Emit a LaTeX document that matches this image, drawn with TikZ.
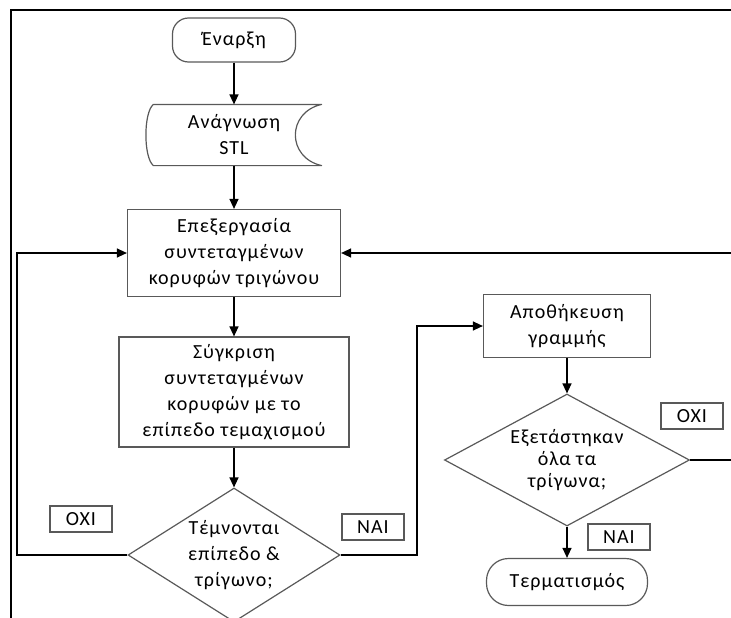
\documentclass[tikz,border=0pt]{standalone}
\usepackage{fontspec}
\setmainfont{Carlito}[LetterSpace=5]
\usetikzlibrary{arrows.meta,shapes.geometric}
\tikzset{>={Triangle[length=10pt,width=9pt]},
  box/.style={draw=black!65,line width=1.2pt,align=center,inner sep=0pt,
    font=\fontsize{20}{26}\selectfont},
  term/.style={box,rounded corners=16pt},
  cond/.style={box,diamond,aspect=1.6},
  tag/.style={box,minimum width=62pt,minimum height=26pt},
  flow/.style={->,line width=1.3pt}}

\begin{document}
\begin{tikzpicture}[x=1pt,y=-1pt]
  \clip (0,0) rectangle (731,618);
  \draw [line width=2pt] (11,618) -- (11,10) -- (731,10);
  \node[term,minimum width=123pt,minimum height=44pt] (start) at (234,40) {Έναρξη};
  \node[box,draw=none,minimum width=174pt,minimum height=60pt] (read) at (234,135)
    {Ανάγνωση\\STL};
  \draw [black!65,line width=1.2pt,line join=round] ([xshift=7pt]read.north west)
    -- (read.north east) .. controls +(-35,8) and +(-35,-8) .. (read.south east)
    -- ([xshift=7pt]read.south west) .. controls +(-10,-8) and +(-10,8)
    .. ([xshift=7pt]read.north west);
  \node[box,minimum width=213pt,minimum height=87pt] (proc) at (234,253)
    {Επεξεργασία\\συντεταγμένων\\κορυφών τριγώνου};
  \node[box,minimum width=230pt,minimum height=110pt] (comp) at (234,392)
    {Σύγκριση\\συντεταγμένων\\κορυφών με το\\επίπεδο τεμαχισμού};
  \node[cond,minimum width=212pt,minimum height=134pt] (cut) at (234,555)
    {Τέμνονται\\επίπεδο \&\\τρίγωνο;};
  \node[box,minimum width=167pt,minimum height=63pt] (save) at (567,326)
    {Αποθήκευση\\γραμμής};
  \node[cond,minimum width=245pt,minimum height=128pt,
    font=\fontsize{20}{22}\selectfont] (done) at (567,460)
    {Εξετάστηκαν\\όλα τα\\τρίγωνα;};
  \node[term,rounded corners=22pt,minimum width=161pt,minimum height=47pt] (stop)
    at (567,582) {Τερματισμός};
  \node[tag] (noA) at (81,519) {ΟΧΙ};
  \node[tag] (yesA) at (373,527) {ΝΑΙ};
  \node[tag] (noB) at (692,416) {ΟΧΙ};
  \node[tag] (yesB) at (619,537) {ΝΑΙ};
  \coordinate (lft) at (17,0);
  \coordinate (mid) at (417,0);
  \coordinate (rgt) at (745,0);
  \draw [flow] (start) -- (read);
  \draw [flow] (read) -- (proc);
  \draw [flow] (proc) -- (comp);
  \draw [flow] (comp) -- (cut);
  \draw [flow] (cut.west) -- (cut.west -| lft) |- (proc.west);
  \draw [flow] (cut.east) -- (cut.east -| mid) |- (save.west);
  \draw [flow] (save) -- (done);
  \draw [flow] (done) -- (stop);
  \draw [flow] (done.east) -- (done.east -| rgt) |- (proc.east);
\end{tikzpicture}
\end{document}
